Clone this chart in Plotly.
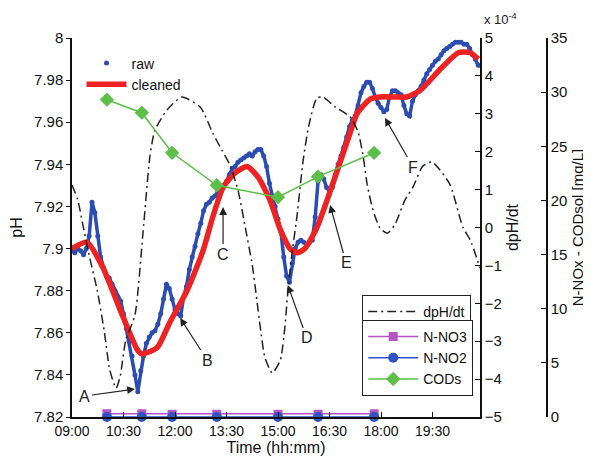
import plotly.graph_objects as go

# ---------------- data ----------------
raw_start = "09:00"
raw_step_min = 5
raw_ph = [
    7.899, 7.898, 7.900, 7.899, 7.897, 7.900, 7.906, 7.922, 7.917, 7.906, 7.896, 7.891,
    7.887, 7.886, 7.883, 7.880, 7.877, 7.875, 7.869, 7.862, 7.856, 7.849, 7.840, 7.832,
    7.842, 7.849, 7.855, 7.858, 7.860, 7.861, 7.864, 7.869, 7.876, 7.883, 7.881, 7.876,
    7.871, 7.869, 7.868, 7.877, 7.882, 7.890, 7.896, 7.901, 7.907, 7.912, 7.918, 7.921,
    7.922, 7.924, 7.925, 7.927, 7.929, 7.930, 7.932, 7.935, 7.938, 7.939, 7.941, 7.942,
    7.943, 7.944, 7.945, 7.944, 7.946, 7.947, 7.947, 7.944, 7.939, 7.931, 7.925, 7.920,
    7.914, 7.908, 7.896, 7.887, 7.884, 7.893, 7.900, 7.903, 7.904, 7.903, 7.902, 7.903,
    7.904, 7.915, 7.932, 7.935, 7.933, 7.929, 7.927, 7.929, 7.935, 7.940, 7.944, 7.948,
    7.953, 7.958, 7.961, 7.963, 7.968, 7.974, 7.977, 7.979, 7.979, 7.976, 7.972, 7.969,
    7.967, 7.965, 7.966, 7.972, 7.975, 7.975, 7.974, 7.973, 7.968, 7.964, 7.963, 7.970,
    7.973, 7.975, 7.977, 7.980, 7.983, 7.985, 7.987, 7.989, 7.990, 7.992, 7.994, 7.995,
    7.996, 7.997, 7.998, 7.998, 7.998, 7.997, 7.997, 7.995, 7.992, 7.990, 7.987,
]

clean_time = ["09:00", "09:26", "09:54", "10:24", "10:54", "11:02", "11:29", "11:51",
              "12:21", "12:49", "13:06", "13:24", "13:45", "14:06", "14:25", "14:46",
              "15:04", "15:21", "15:33", "15:47", "16:08", "16:36", "17:06", "17:18",
              "17:41", "17:58", "18:25", "18:45", "19:08", "19:43", "20:15", "20:36", "20:50"]
clean_ph = [7.900, 7.903, 7.891, 7.871, 7.852, 7.850, 7.853, 7.865,
            7.880, 7.899, 7.915, 7.929, 7.936, 7.939, 7.934, 7.923,
            7.909, 7.900, 7.898, 7.900, 7.910, 7.931, 7.955, 7.964,
            7.971, 7.972, 7.972, 7.972, 7.975, 7.985, 7.993, 7.993, 7.990]

dph_time = ["09:00", "09:10", "09:19", "09:31", "09:44", "09:56", "10:06", "10:17", "10:24",
            "10:34", "10:50", "11:04", "11:16", "11:25", "11:46", "12:12", "12:44", "13:06",
            "13:22", "13:36", "13:50", "14:02", "14:15", "14:23", "14:29", "14:37", "14:50",
            "15:04", "15:12", "15:16", "15:23", "15:33", "15:44", "15:54", "16:08", "16:19",
            "16:40", "17:06", "17:20", "17:29", "17:36", "17:46", "17:58", "18:11", "18:24",
            "18:42", "18:56", "19:13", "19:29", "19:43", "20:01", "20:23", "20:36", "20:53"]
dph_val = [1.12, 0.73, 0.07, -0.80, -1.65, -2.70, -3.76, -4.24, -3.94,
           -2.97, -2.31, -0.15, 1.86, 2.57, 3.10, 3.44, 3.18, 2.49,
           2.04, 1.65, 0.99, 0.07, -0.99, -1.91, -2.63, -3.42, -3.84,
           -3.50, -2.63, -1.91, -0.86, 0.28, 1.78, 2.70, 3.42, 3.44,
           3.18, 2.92, 2.52, 1.86, 1.12, 0.46, -0.01, -0.15, 0.07,
           0.73, 1.07, 1.62, 1.73, 1.52, 1.12, 0.01, -0.33, -1.07]  # x 1e-4

sample_time = ["10:01", "11:02", "11:55", "13:13", "15:00", "16:10", "17:48"]
n_no3 = [0.3, 0.3, 0.25, 0.25, 0.25, 0.25, 0.3]
n_no2 = [0.0, 0.0, 0.0, 0.0, 0.0, 0.0, 0.0]
cods = [29.3, 28.1, 24.4, 21.4, 20.3, 22.2, 24.4]

x_tick_labels = ["09:00", "10:30", "12:00", "13:30", "15:00", "16:30", "18:00", "19:30"]
ph_ticks = [7.82, 7.84, 7.86, 7.88, 7.9, 7.92, 7.94, 7.96, 7.98, 8.0]
ph_tick_labels = ["7.82", "7.84", "7.86", "7.88", "7.9", "7.92", "7.94", "7.96", "7.98", "8"]

labels = ["A", "B", "C", "D", "E", "F"]
label_time = ["10:50", "12:09", "13:24", "15:17", "16:31", "18:07"]
label_ph = [7.8333, 7.867, 7.9197, 7.8827, 7.9207, 7.962]


def to_h(s):
    h, m = s.split(":")
    return int(h) + int(m) / 60.0


h0 = to_h(raw_start)
raw_x = [h0 + i * raw_step_min / 60.0 for i in range(len(raw_ph))]

FONT = "Arial, Liberation Sans, sans-serif"
BLUE = "#2b4db3"
fig = go.Figure()

fig.add_trace(go.Scatter(x=raw_x, y=raw_ph, mode="lines", showlegend=False, hoverinfo="skip",
                         line=dict(color=BLUE, width=3.5)))
fig.add_trace(go.Scatter(x=raw_x, y=raw_ph, mode="markers", name="raw",
                         marker=dict(color=BLUE, size=5), legend="legend"))
fig.add_trace(go.Scatter(x=[to_h(t) for t in clean_time], y=clean_ph, mode="lines",
                         name="cleaned", line=dict(color="#ee2222", width=5.5, shape="spline", smoothing=0.6),
                         legend="legend"))
fig.add_trace(go.Scatter(x=[to_h(t) for t in dph_time], y=dph_val, mode="lines", yaxis="y2",
                         name="dpH/dt", line=dict(color="#222222", width=1.5, dash="9px,4px,2px,4px",
                                                  shape="spline", smoothing=0.6),
                         legend="legend2"))
st = [to_h(t) for t in sample_time]
fig.add_trace(go.Scatter(x=st, y=n_no3, mode="lines+markers", yaxis="y3", name="N-NO3",
                         line=dict(color="#b455c4", width=1.5),
                         marker=dict(symbol="square", size=9, color="#b455c4"),
                         cliponaxis=False, legend="legend3"))
fig.add_trace(go.Scatter(x=st, y=n_no2, mode="lines+markers", yaxis="y3", name="N-NO2",
                         line=dict(color="#2f52c4", width=1.5),
                         marker=dict(symbol="circle", size=10, color="#2f52c4"),
                         cliponaxis=False, legend="legend3"))
fig.add_trace(go.Scatter(x=st, y=cods, mode="lines+markers", yaxis="y3", name="CODs",
                         line=dict(color="#5cbf48", width=1.5),
                         marker=dict(symbol="diamond", size=11, color="#5cbf48"),
                         cliponaxis=False, legend="legend3"))

annotations = []
offsets = [(-50, 7), (27, 42), (0, 47), (19, 53), (16, 58), (28, 49)]
for lab, t, p, (ax, ay) in zip(labels, label_time, label_ph, offsets):
    annotations.append(dict(x=to_h(t), y=p, xref="x", yref="y", text=lab, showarrow=True,
                            ax=ax, ay=ay, arrowhead=2, arrowsize=1.3, arrowwidth=1.2,
                            arrowcolor="#222222", font=dict(size=16, color="#222222", family=FONT)))
annotations.append(dict(x=0.859, y=1.0, xref="paper", yref="paper", xanchor="left", yanchor="bottom",
                        text="x 10<sup>-4</sup>", showarrow=False, xshift=2, yshift=9,
                        font=dict(size=13, color="#222222", family=FONT)))

line_common = dict(showgrid=False, zeroline=False, showline=True, linecolor="#111111", linewidth=1.5,
                   tickcolor="#111111", automargin=False)
yfont = dict(size=15, color="#111111", family=FONT)

# the page body adds an 8px margin, so the figure is sized to compensate
fig.update_layout(
    width=583, height=451,
    margin=dict(l=64, r=44, t=30, b=42),
    paper_bgcolor="white", plot_bgcolor="white",
    font=dict(family=FONT, color="#111111"),
    xaxis=dict(domain=[0, 0.859], range=[9, 20.884], tickvals=[to_h(t) for t in x_tick_labels],
               ticktext=x_tick_labels, ticks="inside", ticklen=5,
               tickfont=dict(size=14, color="#111111", family=FONT),
               title=dict(text="Time (hh:mm)", font=dict(size=16), standoff=4), **line_common),
    yaxis=dict(range=[7.82, 8.0], tickvals=ph_ticks, ticktext=ph_tick_labels, ticks="outside", ticklen=4,
               tickfont=yfont, title=dict(text="pH", font=dict(size=16), standoff=12), **line_common),
    yaxis2=dict(range=[-5, 5], dtick=1, overlaying="y", side="right", anchor="x", ticks="inside",
                ticklen=5, tickfont=yfont,
                title=dict(text="dpH/dt", font=dict(size=16), standoff=6), **line_common),
    yaxis3=dict(range=[0, 35], dtick=5, overlaying="y", side="right", anchor="free", position=1.0,
                ticks="inside", ticklen=5, tickfont=yfont,
                title=dict(text="N-NOx - CODsol [mg/L]", font=dict(size=15), standoff=5), **line_common),
    legend=dict(x=0.02, y=0.975, xanchor="left", yanchor="top", bgcolor="rgba(0,0,0,0)",
                borderwidth=0, font=dict(size=14, family=FONT), tracegroupgap=0, itemwidth=40),
    legend2=dict(x=0.611, y=0.322, xanchor="left", yanchor="top", bgcolor="white",
                 bordercolor="#222222", borderwidth=1, font=dict(size=14, family=FONT), itemwidth=50),
    legend3=dict(x=0.611, y=0.256, xanchor="left", yanchor="top", bgcolor="white",
                 bordercolor="#222222", borderwidth=1, font=dict(size=14, family=FONT),
                 tracegroupgap=0, itemwidth=50),
    annotations=annotations,
    showlegend=True,
)

fig.write_html("out.html")
